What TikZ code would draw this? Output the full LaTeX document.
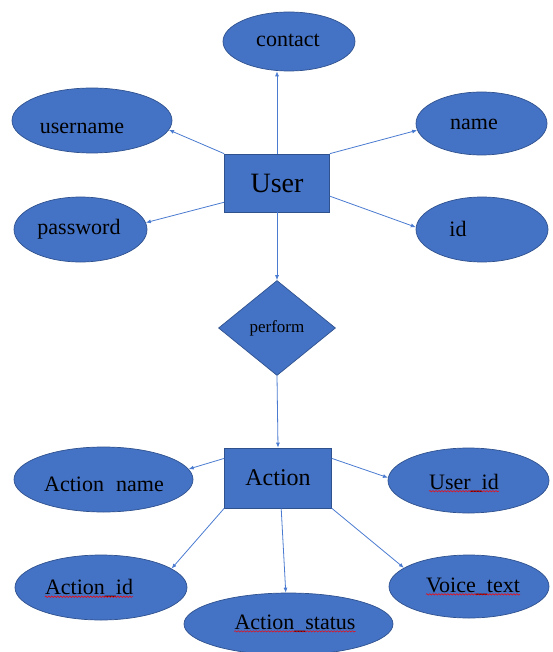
\documentclass[tikz,border=0pt]{standalone}
\usepackage{fontspec}
\setmainfont{Liberation Serif}
\usetikzlibrary{shapes.geometric,arrows.meta,decorations.pathmorphing}
\definecolor{ErFill}{HTML}{4472C4}
\definecolor{ErEdge}{HTML}{2F528F}
\definecolor{ErLine}{HTML}{4A7BD0}
\tikzset{Entity/.style={rectangle,draw=ErEdge,fill=ErFill,line width=0.7pt,inner sep=0pt},
  Attr/.style={ellipse,draw=ErEdge,fill=ErFill,line width=0.7pt,inner sep=0pt},
  Rel/.style={diamond,draw=ErEdge,fill=ErFill,line width=0.7pt,inner sep=0pt,minimum width=117pt,minimum height=95pt},
  Txt/.style={inner sep=0pt,font=\fontsize{22}{26}\selectfont},
  Conn/.style={draw=ErLine,line width=0.8pt,-{Latex[length=5pt,width=4pt]}},
  Squig/.style={red,line width=0.5pt,decorate,decoration={snake,amplitude=0.7pt,segment length=3pt}}}

\begin{document}
\begin{tikzpicture}[x=1pt,y=-1pt]
            \useasboundingbox (0,0) rectangle (552,652);
            \node[Entity,minimum width=105pt,minimum height=58pt,font=\fontsize{28}{32}\selectfont] (user) at (277,183) {User};
            \node[Rel,font=\fontsize{17}{20}\selectfont] (perform) at (277,328) {perform};
            \node[Entity,minimum width=107pt,minimum height=60pt,font=\fontsize{24}{28}\selectfont] (action) at (278,478) {Action};
            \node[Attr,minimum width=132pt,minimum height=59pt] (contact) at (289,41.5) {};
            \node[Attr,minimum width=160pt,minimum height=65pt] (uname) at (92,120.5) {};
            \node[Attr,minimum width=133pt,minimum height=65pt] (pass) at (80.5,229.5) {};
            \node[Attr,minimum width=131pt,minimum height=63pt] (name) at (481.5,123.5) {};
            \node[Attr,minimum width=132pt,minimum height=65pt] (id) at (482,229.5) {};
            \node[Attr,minimum width=179pt,minimum height=65pt] (aname) at (103.5,479.5) {};
            \node[Attr,minimum width=172pt,minimum height=65pt] (aid) at (101,587.5) {};
            \node[Attr,minimum width=209pt,minimum height=62pt] (astatus) at (288.5,624) {};
            \node[Attr,minimum width=161pt,minimum height=65pt] (uid) at (468.5,480.5) {};
            \node[Attr,minimum width=160pt,minimum height=63pt] (voice) at (469,586.5) {};
            \node[Txt] (contactt) at (288,40) {contact};
            \node[Txt] (unamet) at (82,128) {username};
            \node[Txt] (passt) at (79,229.5) {password};
            \node[Txt] (namet) at (474,124.5) {name};
            \node[Txt] (idt) at (458,228.5) {id};
            \node[Txt] (anamet) at (104,484) {Action\hspace{0.55em}name};
            \node[Txt] (aidt) at (89,588.5) {Action\_id};
            \node[Txt] (astatust) at (295,623.5) {Action\_status};
            \node[Txt] (uidt) at (464,483) {User\_id};
            \node[Txt] (voicet) at (473,586.5) {Voice\_text};
            \draw[Squig] ([yshift=-2pt]aidt.base west) -- ([yshift=-2pt]aidt.base east);
            \draw[Squig] ([yshift=-2pt]astatust.base west) -- ([yshift=-2pt]astatust.base east);
            \draw[Squig] ([yshift=-2pt]uidt.base west) -- ([yshift=-2pt]uidt.base east);
            \draw[Squig] ([yshift=-2pt]voicet.base west) -- ([yshift=-2pt]voicet.base east);
            \draw[Conn] (user.north) -- (user.north |- contact.south);
            \draw[Conn] (user.north west) -- (uname.-7);
            \draw[Conn] (user.200) -- (pass.6);
            \draw[Conn] (user.north east) -- (name.186);
            \draw[Conn] (user.-14) -- (id.178);
            \draw[Conn] (user.south) -- (perform.north);
            \draw[Conn] (perform.south) -- (action.north);
            \draw[Conn] (action.160) -- (aname.7);
            \draw[Conn] (action.south west) -- (aid.15);
            \draw[Conn] (action.-84) -- (astatus.95);
            \draw[Conn] (action.20) -- (uid.178);
            \draw[Conn] (action.south east) -- (voice.164);
\end{tikzpicture}
\end{document}
